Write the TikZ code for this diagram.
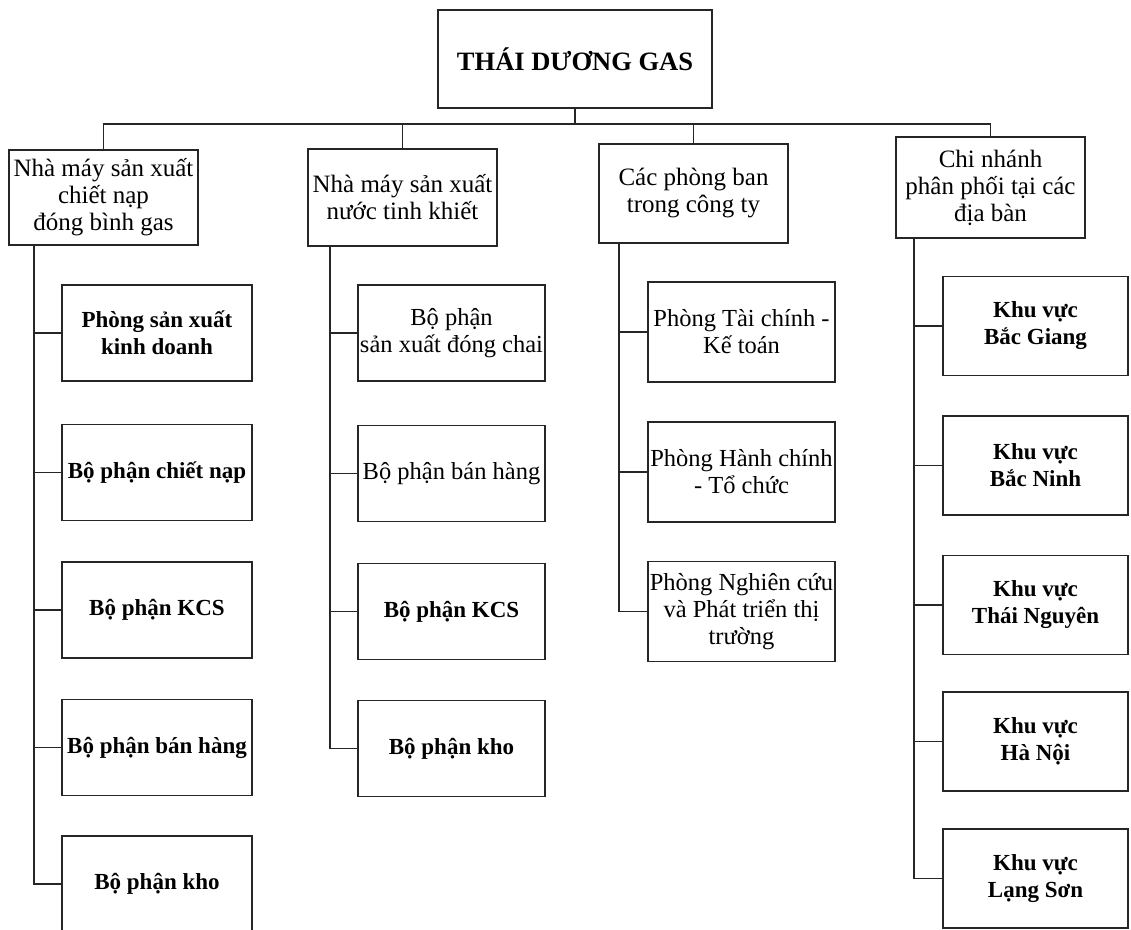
\documentclass[tikz,border=0pt]{standalone}
\usepackage{fontspec}
\setmainfont{Liberation Serif}
\begin{document}
\begin{tikzpicture}[x=1pt,y=-1pt,
  line/.style={line width=1.8pt,draw=black!85},
  box/.style={draw=black!85,line width=1.8pt,align=center,inner sep=0pt,
    font=\fontsize{24.5}{27}\selectfont,text=black},
  topbox/.style={box,minimum width=189pt,font=\fontsize{25}{27}\selectfont},
  leaf/.style={box,minimum height=96pt},
  bleaf/.style={leaf,font=\fontsize{23}{27}\selectfont\bfseries}]
\useasboundingbox[fill=white] (0,0) rectangle (1131,929);

\node[box,minimum width=274pt,minimum height=98pt,
  font=\fontsize{26.5}{29}\selectfont\bfseries] (title) at (575,59) {THÁI DƯƠNG GAS};

\node[topbox,minimum height=95pt] (t1) at (103.5,197.5) {Nhà máy sản xuất\\chiết nạp\\đóng bình gas};
\node[topbox,minimum height=97pt] (t2) at (402.5,197.5) {Nhà máy sản xuất\\nước tinh khiết};
\node[topbox,minimum height=99pt] (t3) at (693.5,193.5) {Các phòng ban\\trong công ty};
\node[topbox,minimum height=101pt] (t4) at (990.5,187.5) {Chi nhánh\\phân phối tại các\\địa bàn};

\coordinate (bus) at (575,124);
\draw[line] (title.south) -- (bus);
\draw[line] (t1.north) -- (t1.north |- bus) -- (t4.north |- bus) -- (t4.north);
\draw[line] (t2.north) -- (t2.north |- bus);
\draw[line] (t3.north) -- (t3.north |- bus);

% column 1
\node[bleaf,minimum width=190pt] (a1) at (157,333) {Phòng sản xuất\\kinh doanh};
\node[bleaf,minimum width=190pt] (a2) at (157,472.5) {Bộ phận chiết nạp};
\node[bleaf,minimum width=190pt] (a3) at (157,610) {Bộ phận KCS};
\node[bleaf,minimum width=190pt] (a4) at (157,747.5) {Bộ phận bán hàng};
\node[bleaf,minimum width=190pt] (a5) at (157,884) {Bộ phận kho};
\coordinate (s1) at (34,245);
\draw[line] (s1) |- (a5.west);
\foreach \n in {a1,a2,a3,a4} \draw[line] (\n.west) -- (\n.west -| s1);

% column 2
\node[leaf,minimum width=187pt] (b1) at (451.5,333) {Bộ phận\\sản xuất đóng chai};
\node[leaf,minimum width=187pt] (b2) at (451.5,473.5) {Bộ phận bán hàng};
\node[bleaf,minimum width=187pt] (b3) at (451.5,611.5) {Bộ phận KCS};
\node[bleaf,minimum width=187pt] (b4) at (451.5,748.5) {Bộ phận kho};
\coordinate (s2) at (330,246);
\draw[line] (s2) |- (b4.west);
\foreach \n in {b1,b2,b3} \draw[line] (\n.west) -- (\n.west -| s2);

% column 3
\node[leaf,minimum width=187pt,minimum height=100pt] (c1) at (741.5,332) {Phòng Tài chính -\\Kế toán};
\node[leaf,minimum width=187pt,minimum height=100pt] (c2) at (741.5,472) {Phòng Hành chính\\- Tổ chức};
\node[leaf,minimum width=187pt,minimum height=100pt] (c3) at (741.5,611.5) {Phòng Nghiên cứu\\và Phát triển thị\\trường};
\coordinate (s3) at (619,243);
\draw[line] (s3) |- (c3.west);
\foreach \n in {c1,c2} \draw[line] (\n.west) -- (\n.west -| s3);

% column 4
\node[bleaf,minimum width=185pt,minimum height=99pt] (d1) at (1035.5,326) {Khu vực\\Bắc Giang};
\node[bleaf,minimum width=185pt,minimum height=99pt] (d2) at (1035.5,465.5) {Khu vực\\Bắc Ninh};
\node[bleaf,minimum width=185pt,minimum height=99pt] (d3) at (1035.5,605) {Khu vực\\Thái Nguyên};
\node[bleaf,minimum width=185pt,minimum height=99pt] (d4) at (1035.5,741.5) {Khu vực\\Hà Nội};
\node[bleaf,minimum width=185pt,minimum height=99pt] (d5) at (1035.5,878.5) {Khu vực\\Lạng Sơn};
\coordinate (s4) at (914,238);
\draw[line] (s4) |- (d5.west);
\foreach \n in {d1,d2,d3,d4} \draw[line] (\n.west) -- (\n.west -| s4);
\end{tikzpicture}
\end{document}
